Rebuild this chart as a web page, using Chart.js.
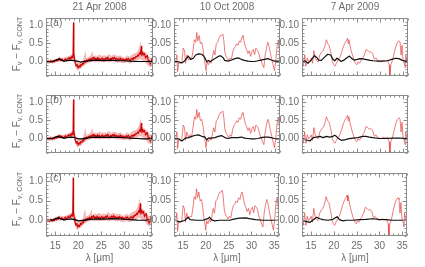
<!DOCTYPE html>
<html><head><meta charset="utf-8">
<script src="https://cdn.jsdelivr.net/npm/chart.js@4/dist/chart.umd.min.js"></script>
<style>
body{margin:0;width:425px;height:267px;background:#fff;position:relative;overflow:hidden;font-family:"Liberation Sans",Arial,sans-serif;color:#6e6e6e}
canvas{position:absolute;display:block}
.t{position:absolute;font-size:10px;line-height:11px;white-space:nowrap;transform:translateX(-50%)}
.yl{position:absolute;width:0;height:0}
.yl span.in{position:absolute;white-space:nowrap;font-size:10px;line-height:11px;transform:translate(-50%,-50%) rotate(-90deg);left:0;top:0}
.yl sub{font-size:7px;vertical-align:-2px}
.pl{position:absolute;font-size:10px;line-height:11px}
</style></head>
<body>
<script>
// ---------------- data ----------------
const columnTitles = ["21 Apr 2008", "10 Oct 2008", "7 Apr 2009"];
const panelLetters = ["(a)", "(b)", "(c)"];
const xTickVals = [15, 20, 25, 30, 35];
const yTickValsCol1 = [0.0, 0.5, 1.0];
const yTickValsCol23 = [0.00, 0.05, 0.10];

// column 1 (21 Apr 2008): dark red mean spectrum [lambda, F]
const c1Red = [[13.0,0.00],[13.2,0.02],[13.4,-0.02],[13.6,0.01],[13.8,-0.03],[14.0,0.02],[14.2,0.00],[14.4,-0.02],[14.6,0.01],[14.8,-0.01],
[15.0,0.03],[15.2,0.01],[15.4,0.05],[15.6,0.02],[15.8,0.09],[16.0,0.05],[16.2,0.03],[16.4,0.07],[16.6,0.04],[16.8,0.01],
[17.0,0.05],[17.2,0.08],[17.4,0.03],[17.6,0.06],[17.8,0.10],[18.0,0.07],[18.2,0.12],[18.4,0.08],[18.6,0.15],[18.8,0.10],
[18.9,1.07],[19.0,0.22],[19.15,0.05],[19.3,-0.05],[19.5,-0.13],[19.7,-0.08],[19.9,-0.18],[20.1,-0.12],[20.3,-0.16],[20.5,-0.08],
[20.7,-0.11],[20.9,-0.04],[21.1,-0.07],[21.3,0.02],[21.5,-0.02],[21.7,0.04],[21.9,0.00],[22.1,0.06],[22.3,0.03],[22.5,0.08],
[22.7,0.02],[22.9,0.10],[23.1,0.06],[23.3,0.12],[23.5,0.05],[23.7,0.09],[23.9,0.04],[24.1,0.11],[24.3,0.06],[24.5,0.09],
[24.7,0.03],[24.9,0.07],[25.1,0.10],[25.3,0.04],[25.5,0.08],[25.7,0.05],[25.9,0.10],[26.1,0.06],[26.3,0.12],[26.5,0.07],
[26.7,0.04],[26.9,0.09],[27.1,0.06],[27.3,0.11],[27.5,0.07],[27.7,0.12],[27.9,0.06],[28.1,0.09],[28.3,0.05],[28.5,0.08],
[28.7,0.04],[28.9,0.10],[29.1,0.06],[29.3,0.08],[29.5,0.03],[29.7,0.07],[29.9,0.02],[30.1,0.05],[30.3,0.08],[30.5,0.04],
[30.7,0.09],[30.9,0.05],[31.1,0.02],[31.3,0.07],[31.5,0.09],[31.7,0.05],[31.9,0.11],[32.1,0.08],[32.3,0.14],[32.5,0.12],
[32.7,0.18],[32.9,0.15],[33.1,0.24],[33.3,0.20],[33.5,0.42],[33.6,0.16],[33.8,0.25],[34.0,0.18],[34.2,0.22],[34.4,0.09],
[34.6,0.14],[34.8,0.17],[35.0,-0.02],[35.2,0.03],[35.4,-0.08],[35.6,-0.02],[35.8,0.10],[36.0,-0.01]];

// column 1: light red scatter envelope
const bandLam = [13.0,13.5,14.0,14.5,15.0,15.5,16.0,16.5,17.0,17.5,18.0,18.5,18.8,18.9,19.0,19.5,19.8,20.0,20.5,21.0,21.5,21.7,22.0,22.5,23.0,23.2,23.5,24.0,24.5,25.0,25.5,26.0,26.5,27.0,27.5,28.0,28.5,29.0,29.5,30.0,30.5,31.0,31.5,32.0,32.5,33.0,33.3,33.6,34.0,34.5,35.0,35.5,36.0];
const bandHi = [0.05,0.04,0.06,0.04,0.07,0.10,0.12,0.10,0.11,0.13,0.16,0.19,0.22,1.12,0.26,0.04,-0.02,-0.04,0.00,0.05,0.30,0.10,0.11,0.15,0.28,0.14,0.17,0.15,0.19,0.15,0.17,0.15,0.21,0.15,0.19,0.17,0.15,0.17,0.12,0.12,0.17,0.13,0.19,0.22,0.25,0.36,0.56,0.32,0.29,0.25,0.15,0.10,0.08];
const bandLo = [-0.05,-0.06,-0.04,-0.06,-0.03,-0.01,-0.01,0.00,-0.01,0.02,0.00,0.02,0.04,0.06,-0.03,-0.19,-0.26,-0.23,-0.19,-0.13,-0.08,-0.06,-0.04,-0.02,-0.01,0.00,-0.03,-0.01,-0.03,-0.01,-0.02,0.00,-0.03,-0.01,0.00,-0.02,-0.03,-0.02,-0.05,-0.04,-0.02,-0.06,-0.03,-0.01,0.02,0.05,0.07,0.04,0.00,-0.04,-0.13,-0.16,-0.08];

// column 1 models (black)
const c1BlackA = [[13.0,0.0],[13.6,-0.01],[14.0,-0.015],[14.7,0.02],[15.4,0.05],[15.8,0.07],[16.1,0.045],[16.9,0.01],[17.6,0.025],[18.3,0.04],[19.0,0.025],[19.7,0.01],[20.4,-0.015],[21.1,0.0],[22.6,0.025],[24.0,0.04],[25.4,0.025],[26.9,0.04],[28.3,0.025],[29.7,0.02],[31.1,0.01],[32.6,0.0],[34.0,0.0],[36.0,0.0]];
const c1BlackB = [[13.0,0.0],[13.7,-0.01],[14.3,0.0],[15.0,0.04],[15.6,0.06],[16.2,0.03],[17.0,0.01],[17.8,0.03],[18.5,0.04],[19.3,0.02],[20.0,-0.01],[20.8,-0.01],[21.6,0.01],[22.8,0.03],[24.2,0.04],[25.6,0.03],[27.0,0.04],[28.4,0.03],[29.8,0.02],[31.2,0.01],[32.6,0.0],[34.0,-0.01],[36.0,-0.01]];
const c1BlackC = [[13.0,0.0],[13.8,-0.01],[14.5,0.01],[15.2,0.05],[15.7,0.06],[16.3,0.03],[17.0,0.01],[17.8,0.03],[18.6,0.03],[19.4,0.01],[20.1,-0.015],[20.9,-0.005],[21.8,0.01],[23.0,0.03],[24.4,0.035],[25.8,0.03],[27.2,0.04],[28.6,0.035],[30.0,0.025],[31.4,0.015],[32.8,0.005],[34.2,0.0],[36.0,0.0]];

// column 2 (10 Oct 2008): observed spectrum (red)
const c2Red = [[13.14,-0.001],[13.43,0.0025],[13.64,0.018],[13.79,-0.028],[14.0,-0.004],[14.36,-0.005],[14.72,-0.001],[15.0,0.037],[15.29,0.030],[15.5,-0.005],
[15.79,0.018],[16.15,0.004],[16.51,0.010],[16.87,0.009],[17.08,0.026],[17.44,0.060],[17.73,0.053],[17.94,0.080],[18.16,0.057],[18.45,0.072],
[18.73,0.049],[19.02,0.053],[19.31,0.033],[19.52,0.010],[19.73,-0.005],[19.95,-0.025],[20.17,-0.001],[20.45,-0.009],[20.74,0.003],[21.02,-0.005],
[21.31,0.010],[21.6,0.030],[21.88,0.018],[22.17,0.049],[22.46,0.053],[22.74,0.064],[23.03,0.071],[23.32,0.072],[23.6,0.076],[23.82,0.057],
[24.03,0.026],[24.32,0.014],[24.6,0.009],[24.9,0.003],[25.18,0.010],[25.47,0.006],[25.75,0.026],[26.04,0.037],[26.33,0.041],[26.6,0.049],
[26.9,0.045],[27.18,0.057],[27.47,0.053],[27.76,0.068],[27.97,0.072],[28.19,0.057],[28.48,0.041],[28.76,0.033],[29.05,0.022],[29.34,0.030],
[29.62,0.014],[29.9,0.027],[30.2,0.033],[30.48,0.019],[30.77,0.037],[31.06,0.033],[31.34,0.026],[31.63,0.010],[31.9,0.003],[32.2,-0.009],
[32.5,-0.017],[32.78,0.018],[33.06,0.037],[33.35,0.053],[33.64,0.041],[33.93,0.022],[34.2,0.006],[34.5,-0.009],[34.8,-0.025],[35.07,-0.001],
[35.36,0.041],[35.64,0.057],[35.93,0.026]];
const c2BlackA = [[13.0,0.0],[13.5,0.0],[14.0,-0.001],[14.7,-0.004],[15.4,0.003],[16.1,0.015],[16.6,0.006],[17.2,0.009],[17.7,0.018],[18.3,0.021],[19.0,0.020],[19.4,0.016],[19.7,0.010],[20.1,-0.001],[20.45,0.003],[20.8,-0.001],[21.2,0.003],[21.9,0.008],[22.6,0.014],[23.1,0.016],[23.7,0.010],[24.0,0.003],[24.75,0.001],[25.5,0.004],[26.2,0.008],[26.9,0.010],[27.6,0.006],[28.3,0.003],[29.05,0.001],[29.8,0.0],[30.5,0.0],[31.2,0.002],[31.9,0.004],[32.6,0.006],[33.35,0.008],[34.1,0.004],[34.8,0.001],[35.5,0.001],[36.0,0.001]];
const c2BlackB = [[13.14,-0.001],[14.0,-0.001],[14.72,-0.007],[15.44,0.001],[16.15,0.0025],[16.87,0.006],[17.59,0.009],[18.3,0.010],[19.02,0.006],[19.73,0.004],[20.09,-0.004],[20.45,0.001],[21.17,0.001],[21.88,0.0025],[22.6,0.006],[23.32,0.008],[24.03,0.0025],[24.75,0.0],[25.47,0.0025],[26.18,0.0025],[26.9,0.0025],[27.62,0.004],[28.33,0.001],[29.05,0.0],[29.77,-0.001],[30.48,-0.001],[31.2,0.0],[31.92,0.0025],[32.63,0.004],[33.35,0.004],[34.07,0.0025],[34.78,0.0],[35.5,-0.001],[35.93,-0.001]];
const c2BlackC = [[13.2,0.0],[14.3,-0.004],[15.4,0.0],[16.1,0.008],[16.5,0.0015],[17.9,0.0],[19.4,0.0],[20.4,0.004],[20.8,0.008],[21.2,0.0015],[21.9,-0.0015],[23.0,0.0],[25.2,0.0],[25.9,0.0023],[27.3,0.0055],[28.8,0.006],[29.5,0.004],[30.9,0.0015],[32.4,0.0],[35.3,0.0],[36.0,0.0]];

// column 3 (7 Apr 2009): observed spectrum (red)
const c3Red = [[13.0,-0.001],[13.29,-0.013],[13.57,0.018],[13.86,-0.013],[14.15,0.010],[14.43,-0.001],[14.72,0.003],[15.0,0.010],[15.29,-0.005],[15.58,0.030],
[15.87,0.010],[16.15,0.003],[16.51,-0.001],[16.87,0.018],[17.23,0.026],[17.59,0.030],[17.94,0.041],[18.16,0.053],[18.3,0.060],[18.59,0.049],
[18.88,0.045],[19.16,0.030],[19.38,0.018],[19.59,-0.001],[19.88,-0.009],[20.17,-0.013],[20.45,-0.005],[20.81,0.003],[21.17,0.010],[21.53,0.022],
[21.88,0.037],[22.24,0.049],[22.6,0.057],[22.89,0.064],[23.03,0.049],[23.17,0.060],[23.46,0.041],[23.75,0.026],[24.03,0.014],[24.32,0.003],
[24.61,-0.005],[24.89,-0.009],[25.18,-0.001],[25.47,-0.005],[25.83,0.003],[26.18,0.010],[26.54,0.018],[26.9,0.033],[27.26,0.030],[27.62,0.026],
[27.97,0.027],[28.33,0.022],[28.69,0.006],[29.05,0.010],[29.41,0.003],[29.77,0.001],[30.12,-0.001],[30.48,0.003],[30.84,0.003],[31.2,0.001],
[31.56,0.003],[31.92,-0.009],[32.06,-0.05],[32.27,-0.009],[32.63,0.003],[32.99,0.022],[33.35,0.041],[33.71,0.053],[34.07,0.057],[34.28,0.053],
[34.5,0.018],[34.71,0.045],[34.93,0.003],[35.14,-0.001],[35.36,-0.017],[35.5,0.018],[35.71,0.003],[35.93,-0.001]];
const c3BlackA = [[13.0,0.0],[13.6,0.002],[14.3,-0.005],[15.0,0.004],[15.7,0.016],[16.2,0.011],[16.6,0.004],[17.2,0.003],[17.9,0.012],[18.6,0.020],[19.2,0.018],[19.7,0.006],[20.1,0.002],[20.6,0.009],[21.1,0.004],[21.5,0.0],[22.0,0.003],[22.6,0.009],[23.3,0.015],[23.8,0.008],[24.3,0.004],[25.0,0.006],[25.6,0.008],[26.2,0.007],[27.0,0.005],[27.8,0.003],[28.5,0.002],[29.4,0.001],[30.5,0.001],[31.5,0.002],[32.5,0.006],[33.3,0.009],[34.0,0.008],[34.8,0.003],[35.5,0.001],[36.0,0.001]];
const c3BlackB = [[13.14,-0.001],[14.0,-0.004],[14.72,-0.007],[15.44,0.0025],[16.15,0.004],[16.87,0.006],[17.59,0.0025],[18.3,0.006],[19.02,0.004],[19.73,0.006],[20.09,0.009],[20.45,0.006],[20.81,0.001],[21.53,-0.005],[22.24,-0.004],[22.96,-0.001],[24.03,0.001],[25.11,0.0025],[26.18,0.006],[26.9,0.006],[27.62,0.004],[28.33,0.0025],[29.77,0.0],[31.2,0.0],[32.63,0.001],[34.07,0.001],[35.93,0.0]];
const c3BlackC = [[12.9,0.0],[14.7,-0.0055],[15.5,0.0015],[16.2,0.0077],[16.9,0.0038],[17.6,0.0015],[18.7,0.0],[19.8,0.0023],[20.7,0.009],[21.2,0.0015],[22.0,-0.0015],[22.7,0.0],[24.1,0.0],[25.6,0.0015],[27.0,0.0023],[28.5,0.0038],[29.9,0.0023],[31.4,0.0015],[32.8,0.0],[36.0,0.0]];

// ---------------- layout ----------------
const PLOT_L = [46, 174, 302], PLOT_R = [153, 280, 408];
const PLOT_T = [13, 90, 168], PLOT_H = 68;
const LM = 34, TM = 4, RM = 4;
const FONT = "'Liberation Sans', Arial, sans-serif";
const TXT = '#6e6e6e', AX = '#8c8c8c';

const xy = p => p.map(([x,y]) => ({x, y}));
const xy2 = (lam, v) => lam.map((x,i) => ({x, y: v[i]}));

const boxPlugin = {
  id: 'box',
  afterDatasetsDraw(chart, args, o) {
    const {ctx, chartArea: a, scales: {x, y}} = chart;
    ctx.save();
    ctx.strokeStyle = AX; ctx.lineWidth = 1;
    const L = Math.round(a.left) + 0.5, R = Math.round(a.right) - 0.5;
    const T = Math.round(a.top) + 0.5, B = Math.round(a.bottom) - 0.5;
    ctx.strokeRect(L, T, R - L, B - T);
    ctx.beginPath();
    for (let v = Math.ceil(x.min); v <= x.max; v++) {
      const px = Math.round(x.getPixelForValue(v)) + 0.5;
      const len = xTickVals.includes(v) ? 4 : 2;
      ctx.moveTo(px, B); ctx.lineTo(px, B - len);
      ctx.moveTo(px, T); ctx.lineTo(px, T + len);
    }
    const m = o.minor;
    for (let k = Math.ceil(y.min / m - 1e-6); k * m <= y.max + 1e-9; k++) {
      const v = k * m;
      const py = Math.round(y.getPixelForValue(v)) + 0.5;
      const len = o.major.some(t => Math.abs(t - v) < 1e-9) ? 4 : 2;
      ctx.moveTo(L, py); ctx.lineTo(L + len, py);
      ctx.moveTo(R, py); ctx.lineTo(R - len, py);
    }
    ctx.stroke();
    ctx.restore();
  }
};

const blacks = [[c1BlackA, c1BlackB, c1BlackC], [c2BlackA, c2BlackB, c2BlackC], [c3BlackA, c3BlackB, c3BlackC]];

function line(data, color, w) {
  return {data, borderColor: color, borderWidth: w, pointRadius: 0, fill: false, tension: 0};
}

for (let r = 0; r < 3; r++) {
  for (let c = 0; c < 3; c++) {
    const bottom = r === 2;
    const W = PLOT_R[c] - PLOT_L[c];
    const BM = bottom ? 18 : 4;
    const cv = document.createElement('canvas');
    cv.width = LM + W + RM; cv.height = TM + PLOT_H + BM;
    cv.style.left = (PLOT_L[c] - LM) + 'px';
    cv.style.top = (PLOT_T[r] - TM) + 'px';
    cv.style.width = cv.width + 'px'; cv.style.height = cv.height + 'px';
    document.body.appendChild(cv);

    // Chart.js paints dataset 0 last (on top), so the topmost series comes first.
    let datasets, ymin, ymax, yt, minor, dec;
    if (c === 0) {
      datasets = [
        line(xy(blacks[c][r]), '#000', 1.2),
        line(xy(c1Red), '#cc0000', 1.1),
        {data: xy2(bandLam, bandHi), borderColor: 'rgba(0,0,0,0)', borderWidth: 0, pointRadius: 0, fill: false},
        {data: xy2(bandLam, bandLo), borderColor: 'rgba(0,0,0,0)', borderWidth: 0, pointRadius: 0, fill: '-1', backgroundColor: 'rgba(244,165,165,0.8)'}
      ];
      ymin = -0.4; ymax = 1.2; yt = yTickValsCol1; minor = 0.1; dec = 1;
    } else {
      const red = c === 1 ? c2Red : c3Red;
      datasets = [
        line(xy(blacks[c][r]), '#111', 1.2),
        line(xy(red), 'rgba(228,70,70,0.7)', 1)
      ];
      ymin = -0.04; ymax = 0.12; yt = yTickValsCol23; minor = 0.01; dec = 2;
    }

    new Chart(cv, {
      type: 'line',
      data: {datasets},
      options: {
        responsive: false, animation: false, devicePixelRatio: 1,
        layout: {padding: {top: TM, right: RM, left: 0, bottom: 0}},
        plugins: {legend: {display: false}, tooltip: {enabled: false}, box: {minor, major: yt}},
        elements: {point: {radius: 0}, line: {borderJoinStyle: 'round'}},
        scales: {
          x: {
            type: 'linear', min: 13, max: 36,
            grid: {display: false, drawTicks: false}, border: {display: false},
            ticks: {display: bottom, font: {family: FONT, size: 10}, color: TXT, padding: 4, maxRotation: 0, autoSkip: false, callback: v => String(v)},
            afterBuildTicks: s => { s.ticks = xTickVals.map(v => ({value: v})); },
            afterFit: s => { s.height = BM; }
          },
          y: {
            type: 'linear', min: ymin, max: ymax,
            grid: {display: false, drawTicks: false}, border: {display: false},
            ticks: {font: {family: FONT, size: 10}, color: TXT, padding: 3, autoSkip: false, callback: v => Number(v).toFixed(dec)},
            afterBuildTicks: s => { s.ticks = yt.map(v => ({value: v})); },
            afterFit: s => { s.width = LM; }
          }
        }
      },
      plugins: [boxPlugin]
    });
  }
}

// titles, labels
columnTitles.forEach((t, c) => {
  const d = document.createElement('div'); d.className = 't';
  d.textContent = t; d.style.left = ((PLOT_L[c] + PLOT_R[c]) / 2) + 'px'; d.style.top = '1px';
  document.body.appendChild(d);
  const xl = document.createElement('div'); xl.className = 't';
  xl.textContent = 'λ [μm]'; xl.style.left = ((PLOT_L[c] + PLOT_R[c]) / 2) + 'px'; xl.style.top = '252px';
  document.body.appendChild(xl);
});
panelLetters.forEach((t, r) => {
  const d = document.createElement('div'); d.className = 'pl';
  d.textContent = t; d.style.left = (PLOT_L[0] + 4) + 'px'; d.style.top = (PLOT_T[r] + 4) + 'px';
  document.body.appendChild(d);
  const y = document.createElement('div'); y.className = 'yl';
  y.style.left = '18px'; y.style.top = (PLOT_T[r] + PLOT_H / 2 - 3) + 'px';
  y.innerHTML = '<span class="in">F<sub>ν</sub> &minus; F<sub>ν, CONT</sub></span>';
  document.body.appendChild(y);
});
</script>
</body></html>
